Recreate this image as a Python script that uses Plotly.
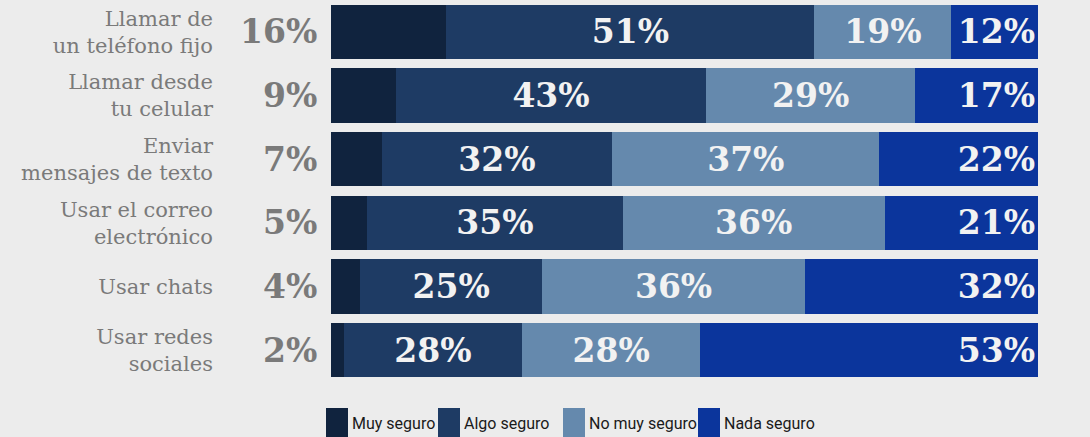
import plotly.graph_objects as go

# ---- data ----
categories = [
    "Llamar de<br>un teléfono fijo",
    "Llamar desde<br>tu celular",
    "Enviar<br>mensajes de texto",
    "Usar el correo<br>electrónico",
    "Usar chats",
    "Usar redes<br>sociales",
]
muy_seguro = [16, 9, 7, 5, 4, 2]
algo_seguro = [51, 43, 32, 35, 25, 28]
no_muy_seguro = [19, 29, 37, 36, 36, 28]
nada_seguro = [12, 17, 22, 21, 32, 53]
series_names = ["Muy seguro", "Algo seguro", "No muy seguro", "Nada seguro"]

# ---- style ----
colors = ["#10233e", "#1e3b64", "#6589ad", "#0b359c"]
bg = "#ececec"
gray = "#7a7a7a"
num_font = dict(family="DejaVu Serif", size=33, color="#f2f2f2", weight="bold")

W, H = 1090, 437
ML, MR, MT, MB = 331, 52, 0, 55
PW, PH = W - ML - MR, H - MT - MB


def fx(px):
    return (px - ML) / PW


def fy(py):
    return (PH + MT - py) / PH


fig = go.Figure()
all_series = [muy_seguro, algo_seguro, no_muy_seguro, nada_seguro]
anchors = [None, "middle", "middle", "end"]
for i, (name, vals) in enumerate(zip(series_names, all_series)):
    kw = {}
    if i > 0:
        kw = dict(
            text=[f"{v}%" for v in vals],
            textposition="inside",
            insidetextanchor=anchors[i],
            textfont=num_font,
            constraintext="none",
        )
    fig.add_trace(
        go.Bar(
            name=name,
            x=vals,
            y=categories,
            orientation="h",
            marker=dict(color=colors[i], line=dict(width=0)),
            hoverinfo="skip",
            **kw,
        )
    )

# "Muy seguro" values printed left of the bars
for cat, v in zip(categories, muy_seguro):
    fig.add_annotation(
        x=0, y=cat, xref="x", yref="y",
        text=f"{v}%", showarrow=False,
        xanchor="right", yanchor="middle", xshift=-12,
        font=dict(family="DejaVu Serif", size=33, color=gray, weight="bold"),
    )

# custom legend
legend_left = [326, 438, 563, 698]
for name, col, lx in zip(series_names, colors, legend_left):
    fig.add_shape(
        type="rect", xref="paper", yref="paper",
        x0=fx(lx), x1=fx(lx + 22), y0=fy(408), y1=fy(445),
        fillcolor=col, line=dict(width=0),
    )
    fig.add_annotation(
        x=fx(lx + 24), y=fy(423), xref="paper", yref="paper",
        text=name, showarrow=False, xanchor="left", yanchor="middle",
        font=dict(family="Roboto", size=16, color="#1a1a1a"),
    )

fig.update_layout(
    width=W, height=H,
    barmode="stack", barnorm="percent", bargap=0.15,
    showlegend=False,
    plot_bgcolor=bg, paper_bgcolor=bg,
    margin=dict(l=ML, r=MR, t=MT, b=MB),
    xaxis=dict(visible=False, range=[0, 100], fixedrange=True),
    yaxis=dict(
        autorange="reversed", showgrid=False, zeroline=False, showline=False,
        ticks="", automargin=False, ticklabelstandoff=117, fixedrange=True,
        tickfont=dict(family="DejaVu Serif", size=21, color=gray),
    ),
)

fig.write_html(
    "out.html",
    config={"displayModeBar": False},
    post_script="document.body.style.margin='0';document.body.style.background='#ececec';",
)
